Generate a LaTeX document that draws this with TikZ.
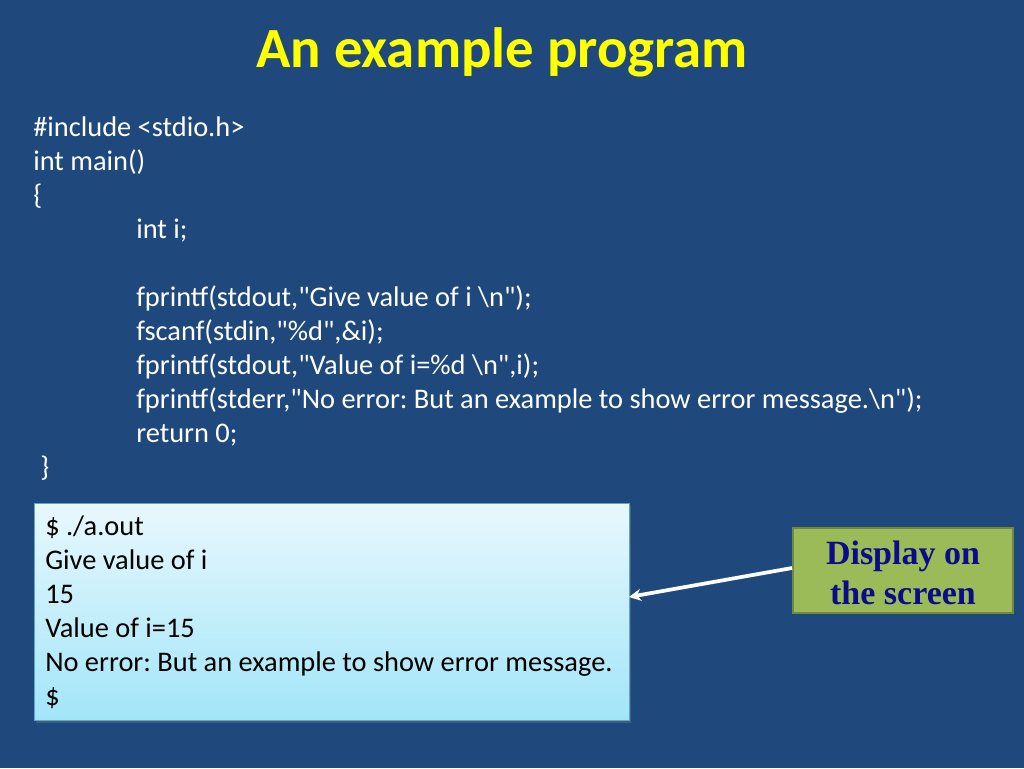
\documentclass[tikz,border=0pt]{standalone}
\usepackage{fontspec}
\setmainfont{Carlito}[Ligatures=TeXOff]
\newfontfamily\timesbf{Liberation Serif}
\usetikzlibrary{arrows.meta,shadows}
\definecolor{bgblue}{HTML}{1F497D}
\definecolor{titleyellow}{HTML}{FFFF00}
\definecolor{termtop}{HTML}{E8F8FD}
\definecolor{termbot}{HTML}{A2E5F8}
\definecolor{termborder}{HTML}{5DA9C4}
\definecolor{greenfill}{HTML}{9BBB59}
\definecolor{greenborder}{HTML}{71893F}
\definecolor{navytext}{HTML}{0C0C8A}
\tikzset{
  codeline/.style={anchor=base west, text=white, inner sep=0pt, font=\fontsize{21.3}{25}\selectfont},
  termline/.style={anchor=base west, text=black, inner sep=0pt, font=\fontsize{21.3}{25}\selectfont},
  callout/.style={draw=greenborder, line width=1.5pt, fill=greenfill, text=navytext,
    font=\timesbf\bfseries\fontsize{25.5}{30}\selectfont, align=center, inner sep=0pt},
  pointer/.style={draw=white, line width=2.8pt, -{Stealth[length=9pt,width=9pt]}}
}
\frenchspacing
\begin{document}
\begin{tikzpicture}[x=0.75pt,y=-0.75pt]
\useasboundingbox (0,0) rectangle (1024,768);
\fill[bgblue] (0,0) rectangle (1024,768);
\node[anchor=base, text=titleyellow, font=\bfseries\fontsize{42.6}{46}\selectfont, inner sep=0pt] (title) at (502,67) {An example program};
% code
\node[codeline] (c1) at (33,136) {\#include <stdio.h>};
\node[codeline] (c2) at (33,170) {int main()};
\node[codeline] (c3) at (33,204) {\{};
\node[codeline] (c4) at (136,238) {int i;};
\node[codeline] (c5) at (136,306) {fprintf(stdout,"Give value of i \textbackslash n");};
\node[codeline] (c6) at (136,340) {fscanf(stdin,"\%d",\&i);};
\node[codeline] (c7) at (136,374) {fprintf(stdout,"Value of i=\%d \textbackslash n",i);};
\node[codeline] (c8) at (136,408) {fprintf(stderr,"No error: But an example to show error message.\textbackslash n");};
\node[codeline] (c9) at (136,442) {return 0;};
\node[codeline] (c10) at (40,476) {\}};
% terminal box
\node[draw=termborder, line width=0.8pt, top color=termtop, bottom color=termbot,
  minimum width=595*0.75pt, minimum height=217*0.75pt, anchor=north west, inner sep=0pt,
  drop shadow={shadow xshift=1pt, shadow yshift=-2pt, opacity=0.35}] (term) at (34,503) {};
\node[termline] (t1) at (45,535) {\$ ./a.out};
\node[termline] (t2) at (45,569) {Give value of i};
\node[termline] (t3) at (45,603) {15};
\node[termline] (t4) at (45,637) {Value of i=15};
\node[termline] (t5) at (45,671) {No error: But an example to show error message.};
\node[termline] (t6) at (45,705) {\$};
% callout
\node[callout, minimum width=220*0.75pt, minimum height=85*0.75pt] (disp) at (903,570.5) {};
\node[text=navytext, font=\timesbf\bfseries\fontsize{25.5}{30}\selectfont, align=center, inner sep=0pt] (disptext) at (903,573) {Display on\\the screen};
\coordinate (tip) at (629,597);
\draw[pointer] (disp.west |- 0,568) -- (tip);
\end{tikzpicture}
\end{document}
